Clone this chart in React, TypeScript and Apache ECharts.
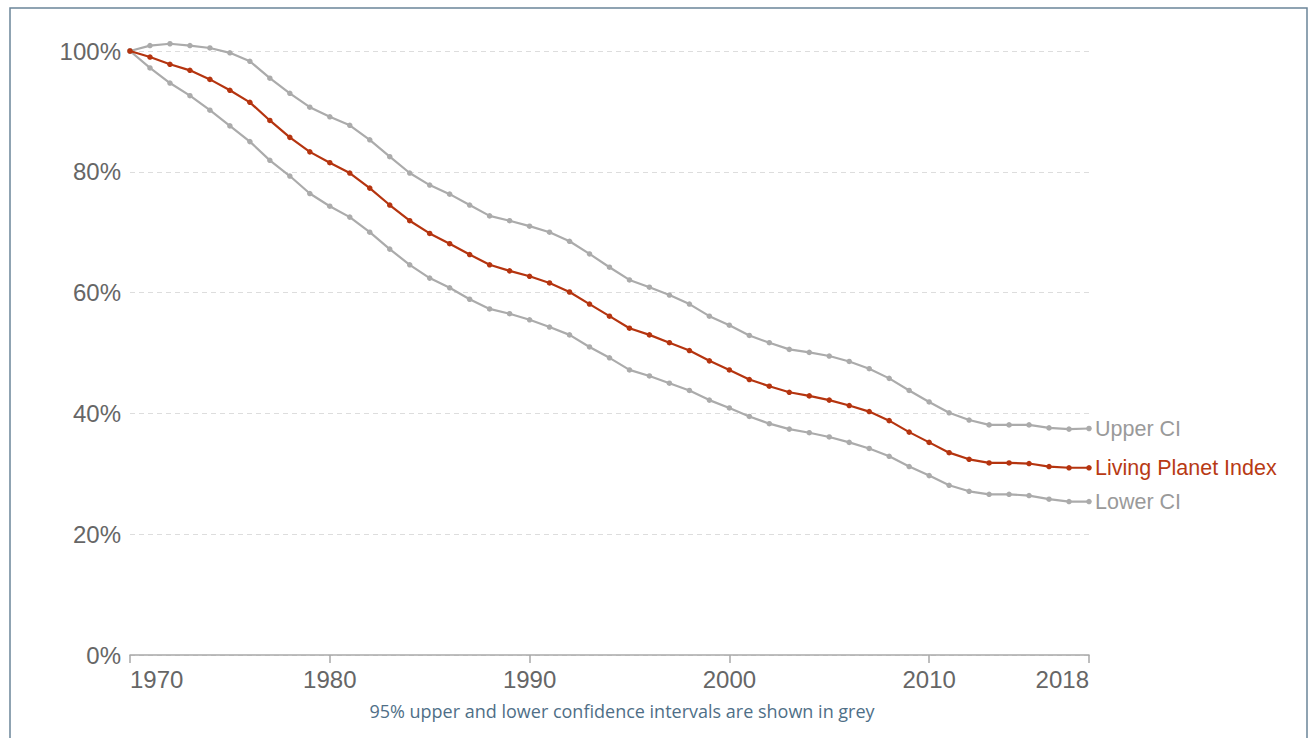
import React, { useEffect, useRef } from "react";
import * as echarts from "echarts";

const years: number[] = [];
for (let y = 1970; y <= 2018; y++) years.push(y);

const lpi = [
  100, 99.0, 97.8, 96.8, 95.3, 93.5, 91.5, 88.5, 85.7, 83.3,
  81.5, 79.8, 77.3, 74.5, 71.9, 69.8, 68.1, 66.3, 64.6, 63.6,
  62.7, 61.6, 60.1, 58.1, 56.1, 54.1, 53.0, 51.7, 50.4, 48.7,
  47.2, 45.6, 44.5, 43.5, 42.9, 42.2, 41.3, 40.3, 38.8, 36.9,
  35.2, 33.5, 32.4, 31.8, 31.8, 31.7, 31.2, 31.0, 31.0,
];

const upperCI = [
  100, 100.9, 101.2, 100.9, 100.5, 99.7, 98.3, 95.5, 93.0, 90.7,
  89.1, 87.7, 85.3, 82.5, 79.8, 77.8, 76.3, 74.5, 72.7, 71.9,
  71.0, 70.0, 68.5, 66.4, 64.2, 62.1, 60.9, 59.6, 58.1, 56.1,
  54.6, 52.9, 51.7, 50.6, 50.1, 49.5, 48.6, 47.4, 45.8, 43.8,
  41.9, 40.1, 38.9, 38.1, 38.1, 38.1, 37.6, 37.4, 37.5,
];

const lowerCI = [
  100, 97.2, 94.7, 92.6, 90.2, 87.6, 85.0, 81.9, 79.3, 76.4,
  74.3, 72.5, 70.0, 67.2, 64.6, 62.4, 60.8, 58.9, 57.3, 56.5,
  55.5, 54.3, 53.0, 51.0, 49.2, 47.2, 46.2, 45.0, 43.8, 42.2,
  40.9, 39.5, 38.3, 37.4, 36.8, 36.1, 35.2, 34.2, 32.9, 31.2,
  29.7, 28.1, 27.1, 26.6, 26.6, 26.4, 25.8, 25.4, 25.4,
];

const xTicks = [1970, 1980, 1990, 2000, 2010, 2018];
const note = "95% upper and lower confidence intervals are shown in grey";

const RED = "#b5340f";
const GREY = "#ababab";
const FONT = "'Liberation Sans', Arial, Helvetica, sans-serif";

export default function App() {
  const ref = useRef<HTMLDivElement>(null);
  useEffect(() => {
    if (!ref.current) return;
    const chart = echarts.init(ref.current, null, { renderer: "svg" });
    const mk = (name: string, data: number[], color: string, z: number) => ({
      name,
      type: "line",
      data: years.map((y, i) => [y, data[i]]),
      symbol: "circle",
      symbolSize: 5.5,
      showSymbol: true,
      clip: false,
      z,
      lineStyle: { color, width: 2.2 },
      itemStyle: { color },
      emphasis: { disabled: true },
      endLabel: {
        show: true,
        formatter: name,
        color: name === "Living Planet Index" ? "#b83a14" : "#9a9a9a",
        fontSize: 21.5,
        fontFamily: FONT,
        distance: 6,
      },
    });
    chart.setOption({
      animation: false,
      grid: { left: 130, right: 227, top: 51, bottom: 83, containLabel: false },
      xAxis: {
        type: "value",
        min: 1970,
        max: 2018,
        axisLine: { show: true, lineStyle: { color: "#a8a8a8", width: 1.5 } },
        axisTick: {
          show: true,
          length: 8,
          customValues: xTicks,
          lineStyle: { color: "#a8a8a8", width: 1.5 },
        },
        axisLabel: {
          customValues: xTicks,
          color: "#666666",
          fontSize: 24,
          fontFamily: FONT,
          margin: 12,
          alignMinLabel: "left",
          alignMaxLabel: "right",
          formatter: (v: number) => String(v),
        },
        splitLine: { show: false },
      },
      yAxis: {
        type: "value",
        min: 0,
        max: 100,
        interval: 20,
        axisLine: { show: false },
        axisTick: { show: false },
        axisLabel: {
          color: "#666666",
          fontSize: 24,
          fontFamily: FONT,
          margin: 9,
          formatter: "{value}%",
        },
        splitLine: {
          show: true,
          lineStyle: { color: "#dddddd", type: [5, 4], width: 1 },
        },
      },
      graphic: [
        {
          type: "rect",
          shape: { x: 10, y: 8, width: 1297, height: 760 },
          style: { fill: "none", stroke: "#6b8599", lineWidth: 1.5 },
          silent: true,
          z: -10,
        },
        {
          type: "text",
          x: 622,
          y: 711,
          style: {
            text: note,
            fill: "#4f6f87",
            fontSize: 18,
            fontFamily: "'Open Sans', 'Noto Sans', sans-serif",
            align: "center",
            verticalAlign: "middle",
          },
        },
      ],
      series: [
        mk("Upper CI", upperCI, GREY, 2),
        mk("Lower CI", lowerCI, GREY, 2),
        mk("Living Planet Index", lpi, RED, 3),
      ],
    });
    return () => chart.dispose();
  }, []);
  return (
    <div
      ref={ref}
      style={{ position: "fixed", left: 0, top: 0, width: 1316, height: 738, background: "#fff" }}
    />
  );
}
